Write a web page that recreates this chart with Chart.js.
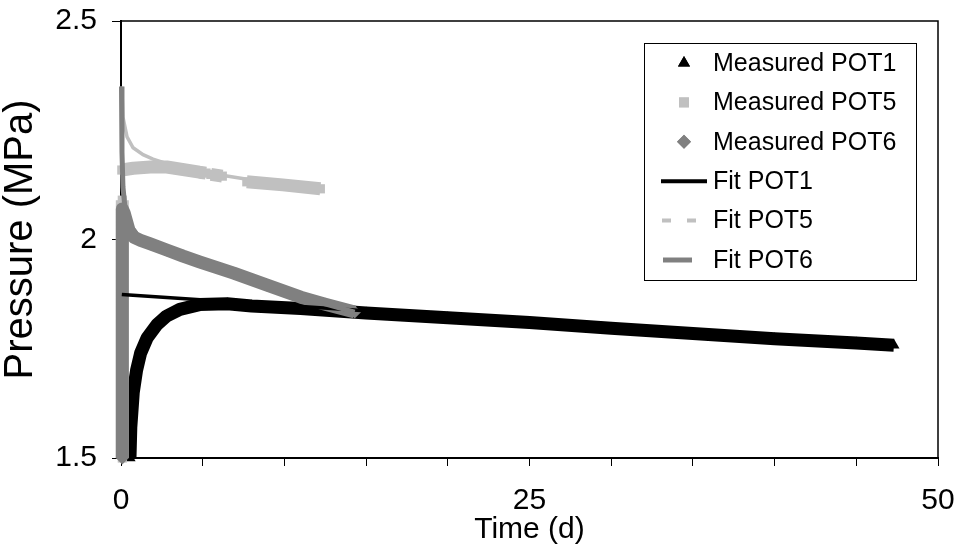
<!DOCTYPE html>
<html>
<head>
<meta charset="utf-8">
<script src="https://cdn.jsdelivr.net/npm/chart.js@4.4.1/dist/chart.umd.min.js"></script>
<style>
  html, body { margin: 0; padding: 0; background: #fff; }
  #wrap { width: 966px; height: 551px; }
</style>
</head>
<body>
<div id="wrap"><canvas id="pressureChart" width="966" height="551"></canvas></div>
<script>
// values (time in days, pressure in MPa)
const timeMeasPot1 = [0.55, 0.6, 0.75, 0.95, 1.2, 1.6, 2.2, 2.8, 3.6, 4.8, 6.5, 8, 11, 15, 20, 25, 30, 35, 40, 45, 47.3];
const presMeasPot1 = [1.50, 1.57, 1.65, 1.70, 1.74, 1.775, 1.805, 1.825, 1.840, 1.851, 1.853, 1.848, 1.842, 1.832, 1.821, 1.81, 1.797, 1.785, 1.773, 1.763, 1.758];

// null = break in the recorded data
const timeMeasPot5 = [0.08, 0.08, null, 0.05, 0.75, 1.8, 2.8, 4.8, 5.2, null, 5.5, 6.2, null, 7.7, 9.9, 12.2];
const presMeasPot5 = [1.50, 2.09, null, 2.159, 2.163, 2.166, 2.166, 2.154, 2.152, null, 2.149, 2.145, null, 2.132, 2.125, 2.116];

const timeMeasPot6 = [0.08, 0.08, 0.2, 0.35, 0.5, 0.8, 1.2, 1.8, 2.8, 3.8, 4.8, 6.9, 8.9, 11, 12.5, 14.3];
const presMeasPot6 = [1.50, 2.07, 2.06, 2.04, 2.02, 2.005, 1.998, 1.99, 1.976, 1.962, 1.949, 1.923, 1.896, 1.868, 1.852, 1.834];

const timeFitPot1 = [0.05, 47];
const presFitPot1 = [1.874, 1.757];

const timeFitPot5 = [0.05, 0.12, 0.37, 0.74, 1.35, 1.96, 3, 4.5, 6, 8, 10, 12.2];
const presFitPot5 = [2.35, 2.28, 2.235, 2.21, 2.194, 2.184, 2.171, 2.159, 2.148, 2.136, 2.126, 2.117];

const timeFitPot6 = [0.03, 0.06, 0.12, 0.25, 0.5, 1, 2, 3, 5, 8, 11, 14.3];
const presFitPot6 = [2.35, 2.20, 2.12, 2.07, 2.035, 2.01, 1.985, 1.97, 1.945, 1.905, 1.868, 1.834];

const xTicks = [0, 25, 50];
const yTicks = [1.5, 2, 2.5];

const BLACK = '#000000';
const LIGHT = '#c0c0c0';
const DARK = '#808080';
const FONT = "'Liberation Sans', Arial, sans-serif";

function pairs(xs, ys) {
    return xs.map((x, i) => (x === null ? { x: xs[i - 1], y: null } : { x: x, y: ys[i] }));
}

// measured series: dense markers in the original, drawn as a thick band
function measured(label, xs, ys, color, style, order) {
    return {
        label: label,
        data: pairs(xs, ys),
        borderColor: color,
        backgroundColor: color,
        borderWidth: 13,
        borderJoinStyle: 'round',
        pointStyle: style,
        pointRadius: 6.5,
        pointBorderWidth: 0,
        pointBackgroundColor: color,
        spanGaps: false,
        clip: { left: 8, top: 0, right: 0, bottom: 8 },
        order: order
    };
}

function fit(label, xs, ys, color, width, order) {
    return {
        label: label,
        data: pairs(xs, ys),
        borderColor: color,
        backgroundColor: color,
        borderWidth: width,
        pointRadius: 0,
        clip: { left: 3, top: 0, right: 0, bottom: 0 },
        order: order
    };
}

// legend drawn inside the plot area like the original
const boxLegend = {
    id: 'boxLegend',
    afterDraw(chart) {
        const { ctx, chartArea } = chart;
        const left = chartArea.right - 294, top = chartArea.top + 22;
        const w = 272, h = 237;
        ctx.save();
        ctx.fillStyle = '#fff';
        ctx.fillRect(left, top, w, h);
        ctx.strokeStyle = BLACK;
        ctx.lineWidth = 1;
        ctx.strokeRect(left + 0.5, top + 0.5, w, h);

        const items = [
            { text: 'Measured POT1', marker: 'triangle', color: BLACK },
            { text: 'Measured POT5', marker: 'rect', color: LIGHT },
            { text: 'Measured POT6', marker: 'rectRot', color: DARK },
            { text: 'Fit POT1', line: [17, 63], width: 4, color: BLACK },
            { text: 'Fit POT5', line: [18, 63], width: 4, color: LIGHT, dash: [9, 16] },
            { text: 'Fit POT6', line: [19, 48], width: 5, color: DARK }
        ];
        ctx.font = '25px ' + FONT;
        ctx.textBaseline = 'middle';
        ctx.textAlign = 'left';
        items.forEach((it, i) => {
            const y = top + 20 + i * 39.4;
            if (it.marker) {
                ctx.fillStyle = it.color;
                Chart.helpers.drawPoint(ctx, {
                    pointStyle: it.marker, radius: 7, borderWidth: 0
                }, left + 40, y);
                ctx.fill();
            } else {
                ctx.beginPath();
                ctx.setLineDash(it.dash || []);
                ctx.strokeStyle = it.color;
                ctx.lineWidth = it.width;
                ctx.moveTo(left + it.line[0], y);
                ctx.lineTo(left + it.line[1], y);
                ctx.stroke();
                ctx.setLineDash([]);
            }
            ctx.fillStyle = BLACK;
            ctx.fillText(it.text, left + 69, y + 1);
        });
        ctx.restore();
    }
};

// top and right edges of the plot frame
const plotFrame = {
    id: 'plotFrame',
    afterDraw(chart) {
        const { ctx, chartArea } = chart;
        ctx.save();
        ctx.strokeStyle = BLACK;
        ctx.lineWidth = 1.5;
        ctx.beginPath();
        ctx.moveTo(chartArea.left, chartArea.top);
        ctx.lineTo(chartArea.right, chartArea.top);
        ctx.lineTo(chartArea.right, chartArea.bottom);
        ctx.stroke();
        ctx.restore();
    }
};

new Chart(document.getElementById('pressureChart'), {
    type: 'line',
    data: {
        datasets: [
            measured('Measured POT1', timeMeasPot1, presMeasPot1, BLACK, 'triangle', 6),
            measured('Measured POT5', timeMeasPot5, presMeasPot5, LIGHT, 'rect', 5),
            measured('Measured POT6', timeMeasPot6, presMeasPot6, DARK, 'rectRot', 4),
            fit('Fit POT1', timeFitPot1, presFitPot1, BLACK, 3.5, 3),
            fit('Fit POT5', timeFitPot5, presFitPot5, LIGHT, 3.5, 2),
            fit('Fit POT6', timeFitPot6, presFitPot6, DARK, 5, 1)
        ]
    },
    options: {
        responsive: false,
        devicePixelRatio: 1,
        animation: false,
        parsing: false,
        normalized: true,
        layout: { padding: { top: 21, right: 28, left: 0, bottom: 0 } },
        plugins: { legend: { display: false }, tooltip: { enabled: false } },
        scales: {
            x: {
                type: 'linear',
                min: 0, max: 50,
                afterFit(scale) {
                    scale.height = 93;
                    scale.paddingLeft = 0;
                    scale.paddingRight = 0;
                },
                ticks: {
                    stepSize: 5,
                    autoSkip: false,
                    maxRotation: 0,
                    padding: 17,
                    color: BLACK,
                    font: { size: 30, family: FONT },
                    callback: v => (xTicks.includes(v) ? String(v) : '')
                },
                grid: { drawOnChartArea: false, tickLength: 8, color: BLACK, lineWidth: 1 },
                border: { color: BLACK, width: 2 },
                title: {
                    display: true, text: 'Time (d)', color: BLACK,
                    font: { size: 30, family: FONT }, padding: { top: 0, bottom: 3 }
                }
            },
            y: {
                type: 'linear',
                min: 1.5, max: 2.5,
                afterFit(scale) {
                    scale.width = 121;
                    scale.paddingTop = 0;
                    scale.paddingBottom = 0;
                },
                afterBuildTicks(scale) { scale.ticks = yTicks.map(v => ({ value: v })); },
                ticks: {
                    padding: 15,
                    color: BLACK,
                    font: { size: 30, family: FONT },
                    callback: v => String(v)
                },
                grid: { drawOnChartArea: false, tickLength: 9, color: BLACK, lineWidth: 1 },
                border: { color: BLACK, width: 2 },
                title: {
                    display: true, text: 'Pressure (MPa)', color: BLACK,
                    font: { size: 40, family: FONT, lineHeight: 1.05 }, padding: { top: 0, bottom: 0 }
                }
            }
        }
    },
    plugins: [boxLegend, plotFrame]
});
</script>
</body>
</html>
